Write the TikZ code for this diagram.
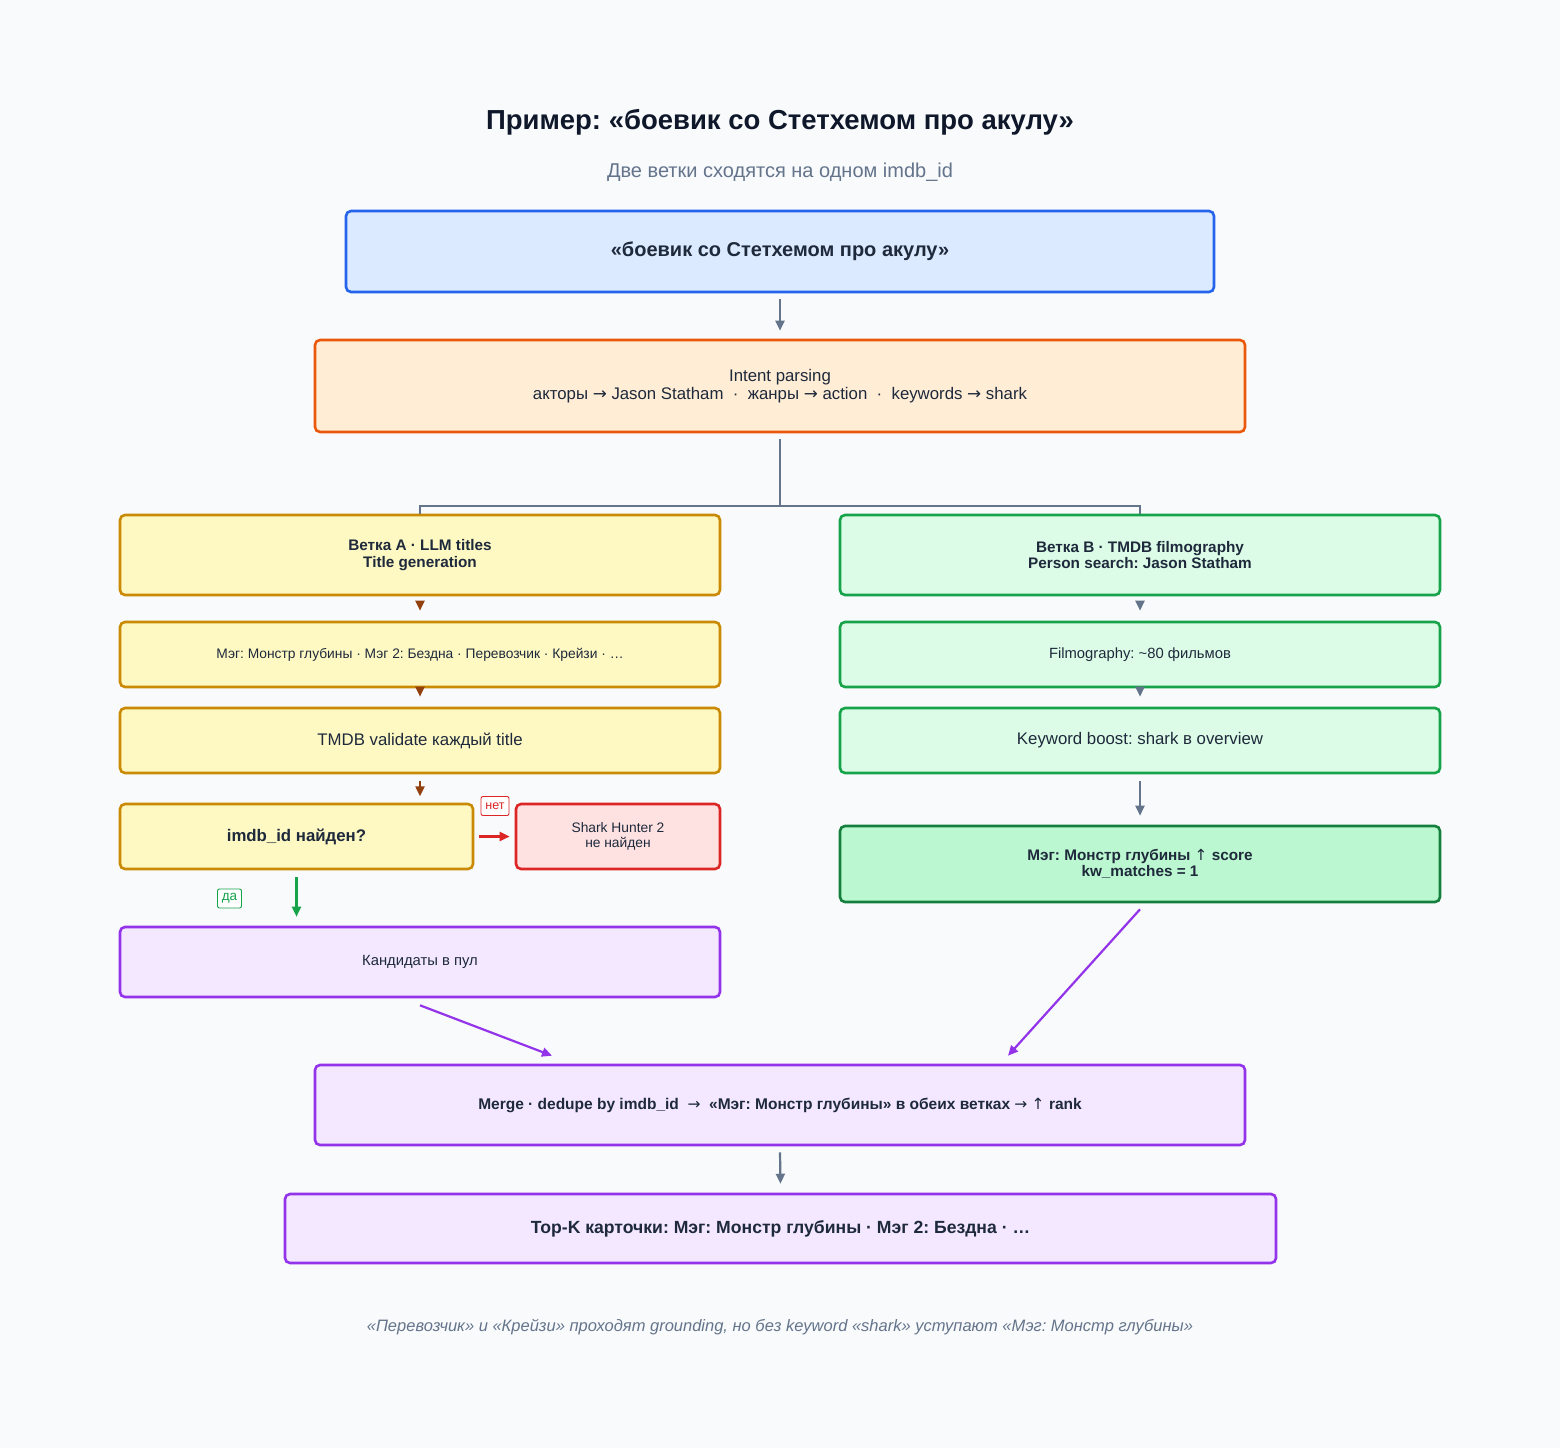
\documentclass[tikz,border=0pt]{standalone}
\usepackage{fontspec}
\setmainfont{Liberation Sans}
\newfontfamily\symf{DejaVu Sans}
\usetikzlibrary{arrows.meta}
\frenchspacing
\definecolor{bgc}{HTML}{F8FAFC}
\definecolor{titlec}{HTML}{0F172A}
\definecolor{subc}{HTML}{64748B}
\definecolor{txtc}{HTML}{1E293B}
\definecolor{blueF}{HTML}{DBEAFE}\definecolor{blueS}{HTML}{2563EB}
\definecolor{orF}{HTML}{FFEDD5}\definecolor{orS}{HTML}{EA580C}
\definecolor{yeF}{HTML}{FEF9C3}\definecolor{yeS}{HTML}{CA8A04}
\definecolor{grF}{HTML}{DCFCE7}\definecolor{grS}{HTML}{16A34A}
\definecolor{gr2F}{HTML}{BBF7D0}\definecolor{gr2S}{HTML}{15803D}
\definecolor{rdF}{HTML}{FEE2E2}\definecolor{rdS}{HTML}{DC2626}
\definecolor{puF}{HTML}{F3E8FF}\definecolor{puS}{HTML}{9333EA}
\definecolor{brn}{HTML}{92400E}
\newcommand{\fs}[1]{\fontsize{#1}{#1}\selectfont}
\newcommand{\ra}{{\symf\mdseries →}}
\newcommand{\ua}{{\symf\mdseries ↑}}
\tikzset{
  box/.style={draw, line width=2.6pt, rounded corners=5pt, inner sep=0pt, text=txtc, align=center},
  bluebox/.style={box, fill=blueF, draw=blueS},
  orbox/.style={box, fill=orF, draw=orS},
  yebox/.style={box, fill=yeF, draw=yeS},
  grbox/.style={box, fill=grF, draw=grS},
  gr2box/.style={box, fill=gr2F, draw=gr2S},
  rdbox/.style={box, fill=rdF, draw=rdS},
  pubox/.style={box, fill=puF, draw=puS},
  conn/.style={line width=2.2pt, draw=subc},
  arr/.style={conn, -{Triangle[length=10pt, width=9pt]}},
  brarr/.style={arr, draw=brn, fill=brn},
  rdarr/.style={arr, draw=rdS},
  grarr/.style={arr, draw=grS},
  puarr/.style={arr, draw=puS},
  tag/.style={draw, line width=0.9pt, rounded corners=2pt, fill=white, inner sep=2pt, minimum height=19pt, minimum width=28pt}
}
\begin{document}
\begin{tikzpicture}[x=1pt,y=-1pt]
\fill[bgc] (0,0) rectangle (1560,1448);
\useasboundingbox (0,0) rectangle (1560,1448);

\node[text=titlec, font=\fs{27.5}\bfseries] (title) at (780,122) {Пример: «боевик со Стетхемом про акулу»};
\node[text=subc, font=\fs{20}] (sub) at (780,172) {Две ветки сходятся на одном imdb\_id};

\node[bluebox, minimum width=868, minimum height=81, font=\fs{20}\bfseries] (q) at (780,251.5) {«боевик со Стетхемом про акулу»};

\node[orbox, minimum width=930, minimum height=92, font=\fs{16.8}] (intent) at (780,386) {Intent parsing\\[1pt]акторы \ra{} Jason Statham \ · \ жанры \ra{} action \ · \ keywords \ra{} shark};

% Branch A
\node[yebox, minimum width=600, minimum height=80, font=\fs{15.3}\bfseries] (a1) at (420,555) {Ветка A · LLM titles\\[1pt]Title generation};
\node[yebox, minimum width=600, minimum height=65, font=\fs{13.8}] (a2) at (420,654.5) {Мэг: Монстр глубины · Мэг 2: Бездна · Перевозчик · Крейзи · …};
\node[yebox, minimum width=600, minimum height=65, font=\fs{16.8}] (a3) at (420,740.5) {TMDB validate каждый title};
\node[yebox, minimum width=353, minimum height=65, font=\fs{16.8}\bfseries] (dec) at (296.5,836.5) {imdb\_id найден?};
\node[rdbox, minimum width=204, minimum height=65, font=\fs{13.8}] (nf) at (618,836.5) {Shark Hunter 2\\[1pt]не найден};
\node[pubox, minimum width=600, minimum height=70, font=\fs{14.8}] (cand) at (420,962) {Кандидаты в пул};

% Branch B
\node[grbox, minimum width=600, minimum height=80, font=\fs{15.3}\bfseries] (b1) at (1140,555) {Ветка B · TMDB filmography\\[1pt]Person search: Jason Statham};
\node[grbox, minimum width=600, minimum height=65, font=\fs{14.8}] (b2) at (1140,654.5) {Filmography: \textasciitilde80 фильмов};
\node[grbox, minimum width=600, minimum height=65, font=\fs{16.8}] (b3) at (1140,740.5) {Keyword boost: shark в overview};
\node[gr2box, minimum width=600, minimum height=76, font=\fs{15.3}\bfseries] (b4) at (1140,864) {Мэг: Монстр глубины \ua{} score\\[1pt]kw\_matches = 1};

% Merge
\node[pubox, minimum width=930, minimum height=80, font=\fs{15.5}\bfseries] (merge) at (780,1105) {Merge · dedupe by imdb\_id \ \ra{} \ «Мэг: Монстр глубины» в обеих ветках \ra{} \ua{} rank};
\node[pubox, minimum width=991, minimum height=69, font=\fs{17.6}\bfseries] (topk) at (780.5,1228.5) {Top-K карточки: Мэг: Монстр глубины · Мэг 2: Бездна · …};

\node[text=subc, font=\fs{16.5}\itshape] (foot) at (780,1327) {«Перевозчик» и «Крейзи» проходят grounding, но без keyword «shark» уступают «Мэг: Монстр глубины»};

% connectors
\draw[arr] ([yshift=-6pt]q.south) -- ([yshift=8pt]intent.north);
\coordinate (split) at (780,506);
\draw[conn] ([yshift=-6pt]intent.south) -- (split);
\draw[conn] (split) -| (a1.north);
\draw[conn] (split) -| (b1.north);

\draw[brarr] ([yshift=-6pt]a1.south) -- ([yshift=10pt]a2.north);
\draw[brarr] ([yshift=1pt]a2.south) -- ([yshift=10pt]a3.north);
\draw[brarr] ([yshift=-7pt]a3.south) -- ([yshift=-22pt]a3.south);

\draw[arr] ([yshift=-6pt]b1.south) -- ([yshift=10pt]b2.north);
\draw[arr] ([yshift=1pt]b2.south) -- ([yshift=10pt]b3.north);
\draw[arr] ([yshift=-7pt]b3.south) -- ([yshift=9pt]b4.north);

\draw[rdarr] ([xshift=5pt]dec.east) -- ([xshift=-5pt]nf.west);
\node[tag, draw=rdS, text=rdS, font=\fs{12.5}] (no) at (495,806) {нет};
\draw[grarr] ([yshift=-7pt]dec.south) -- ([yshift=9pt]cand.north -| dec.south);
\node[tag, draw=grS, text=grS, font=\fs{13.5}, minimum width=24pt] (yes) at (229.5,898.5) {да};

\draw[puarr] ([yshift=-7pt]cand.south) -- ([xshift=-228pt,yshift=8pt]merge.north);
\draw[puarr] ([yshift=-6pt]b4.south) -- ([xshift=228pt,yshift=8pt]merge.north);
\draw[arr] ([yshift=-6pt]merge.south) -- ([yshift=9pt]topk.north);
\end{tikzpicture}
\end{document}
